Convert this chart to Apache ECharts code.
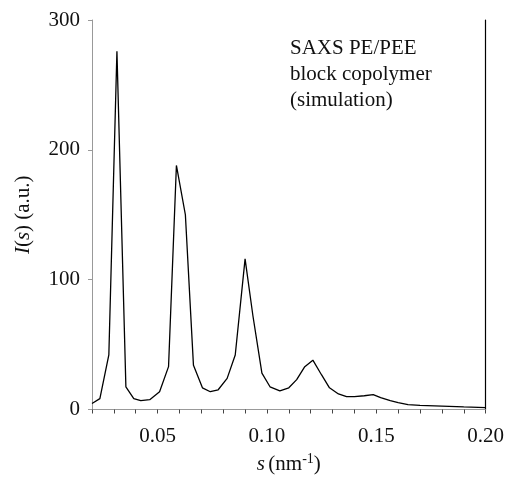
<!DOCTYPE html>
<html>
<head>
<meta charset="utf-8">
<script src="https://cdn.jsdelivr.net/npm/echarts@6/dist/echarts.min.js"></script>
<style>html,body{margin:0;padding:0;background:#fff;}#chart{width:507px;height:480px;}</style>
</head>
<body>
<div id="chart"></div>
<script>
// scattering vector s (nm^-1)
var sValues = [0.0200, 0.0236, 0.0277, 0.0314, 0.0355, 0.0391, 0.0423, 0.0464, 0.0509, 0.0550,
  0.0586, 0.0627, 0.0664, 0.0705, 0.0741, 0.0777, 0.0818, 0.0855, 0.0900, 0.0936,
  0.0977, 0.1014, 0.1059, 0.1100, 0.1136, 0.1173, 0.1210, 0.1250, 0.1286, 0.1327,
  0.1364, 0.1400, 0.1445, 0.1486, 0.1520, 0.1564, 0.1600, 0.1645, 0.1700, 0.1800,
  0.1900, 0.2000];
// intensity I(s) (a.u.)
var intensity = [4.6, 8.4, 42, 276, 17.5, 8.4, 6.8, 7.6, 13.7, 33,
  188, 150, 34, 16.7, 13.7, 15.2, 24, 42, 116, 72,
  28, 17.5, 14.4, 16.7, 23, 33, 38, 26.6, 16.7, 12,
  9.9, 9.9, 10.6, 11.4, 9.1, 6.8, 5.3, 3.8, 3.2, 2.6,
  2.0, 1.5];
var yTicks = [0, 100, 200, 300];
var xTickLabels = ['0.05', '0.10', '0.15', '0.20'];
var noteLines = ['SAXS PE/PEE', 'block copolymer', '(simulation)'];

var FONT = '"Liberation Serif", "Times New Roman", serif';
var data = sValues.map(function (s, i) { return [s, intensity[i]]; });

var chart = echarts.init(document.getElementById('chart'));
chart.setOption({
  animation: false,
  backgroundColor: '#fff',
  grid: { left: 92, right: 20, top: 20, bottom: 55, containLabel: false },
  title: {
    text: noteLines.join('\n'),
    left: 285, top: 30,
    textStyle: { fontFamily: FONT, fontSize: 21, fontWeight: 'normal', color: '#111', lineHeight: 26 }
  },
  xAxis: [{
    type: 'value', min: 0.02, max: 0.20, interval: 0.01,
    axisLine: { lineStyle: { color: '#444', width: 1 } },
    axisTick: { show: true, inside: false, length: 4, lineStyle: { color: '#444' } },
    splitLine: { show: false },
    axisLabel: {
      margin: 16, fontFamily: FONT, fontSize: 21, color: '#111', showMaxLabel: true, showMinLabel: true,
      formatter: function (v) {
        var t = v.toFixed(2);
        return xTickLabels.indexOf(t) >= 0 ? t : '';
      }
    },
    name: '{i|s} {n|(nm}{sup|-1}{n|)}',
    nameLocation: 'middle', nameGap: 43,
    nameTextStyle: {
      rich: {
        i: { fontFamily: FONT, fontSize: 21, fontStyle: 'italic', color: '#111' },
        n: { fontFamily: FONT, fontSize: 21, color: '#111' },
        sup: { fontFamily: FONT, fontSize: 14, color: '#111', verticalAlign: 'top', padding: [0, 0, 10, 0] }
      }
    }
  }, {
    type: 'value', position: 'top', min: 0.02, max: 0.20,
    axisLine: { show: true, lineStyle: { color: '#999', width: 1 } },
    axisTick: { show: false }, axisLabel: { show: false }, splitLine: { show: false }
  }],
  yAxis: [{
    type: 'value', min: 0, max: 300, interval: 100,
    axisLine: { show: true, lineStyle: { color: '#999', width: 1 } },
    axisTick: { show: true, inside: false, length: 4, lineStyle: { color: '#999' } },
    splitLine: { show: false },
    axisLabel: { margin: 12, fontFamily: FONT, fontSize: 21, color: '#111' },
    name: '{i|I}{n|(}{i|s}{n|) (a.u.)}',
    nameLocation: 'middle', nameGap: 58,
    nameTextStyle: {
      rich: {
        i: { fontFamily: FONT, fontSize: 21, fontStyle: 'italic', color: '#111' },
        n: { fontFamily: FONT, fontSize: 21, color: '#111' }
      }
    }
  }, {
    type: 'value', position: 'right', min: 0, max: 300,
    axisLine: { show: true, lineStyle: { color: '#000', width: 1.2 } },
    axisTick: { show: false }, axisLabel: { show: false }, splitLine: { show: false }
  }],
  series: [{
    type: 'line', data: data, showSymbol: false, symbol: 'none', smooth: false,
    lineStyle: { color: '#000', width: 1.3 }, clip: true
  }]
});
</script>
</body>
</html>
